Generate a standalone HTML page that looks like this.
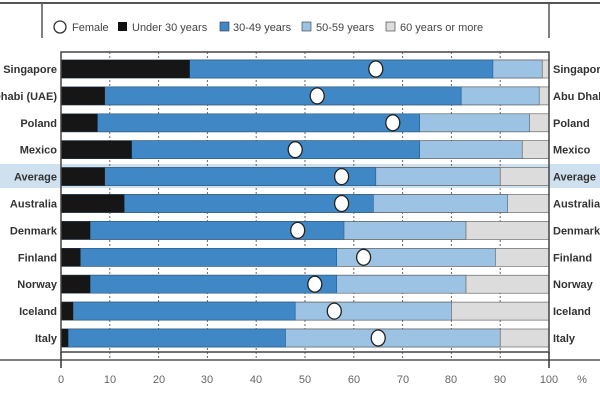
<!DOCTYPE html>
<html><head><style>body{margin:0;background:#fff}svg{display:block}text{font-family:"Liberation Sans",sans-serif}</style></head><body>
<svg width="600" height="400" viewBox="0 0 600 400" xmlns="http://www.w3.org/2000/svg">
<rect width="600" height="400" fill="#fff"/>
<line x1="0" y1="3" x2="600" y2="3" stroke="#555" stroke-width="2"/>
<line x1="42" y1="3" x2="42" y2="38" stroke="#555" stroke-width="1.5"/>
<line x1="549" y1="3" x2="549" y2="38" stroke="#555" stroke-width="1.5"/>
<g font-size="11" fill="#444">
<circle cx="60" cy="27" r="6" fill="#fff" stroke="#333" stroke-width="1.3"/><text x="72" y="31">Female</text>
<rect x="118" y="22" width="9" height="9" fill="#111"/><text x="132" y="31">Under 30 years</text>
<rect x="220" y="22" width="9" height="9" fill="#3f88c5" stroke="#333" stroke-width=".6"/><text x="233" y="31">30-49 years</text>
<rect x="302" y="22" width="9" height="9" fill="#9cc3e4" stroke="#333" stroke-width=".6"/><text x="316" y="31">50-59 years</text>
<rect x="386" y="22" width="9" height="9" fill="#ddd" stroke="#333" stroke-width=".6"/><text x="400" y="31">60 years or more</text>
</g>
<rect x="0" y="164" width="600" height="24" fill="#cfe0ef"/>
<g stroke="#666" stroke-dasharray="2,2" stroke-width="1">
<line x1="109.8" y1="52" x2="109.8" y2="360"/><line x1="158.6" y1="52" x2="158.6" y2="360"/><line x1="207.4" y1="52" x2="207.4" y2="360"/><line x1="256.2" y1="52" x2="256.2" y2="360"/><line x1="305" y1="52" x2="305" y2="360"/><line x1="353.8" y1="52" x2="353.8" y2="360"/><line x1="402.6" y1="52" x2="402.6" y2="360"/><line x1="451.4" y1="52" x2="451.4" y2="360"/><line x1="500.2" y1="52" x2="500.2" y2="360"/>
</g>
<g stroke="#555" stroke-width=".6">
<!-- grey full -->
<g fill="#dcdcdc">
<rect x="61" y="60" width="488" height="18"/><rect x="61" y="86.9" width="488" height="18"/><rect x="61" y="113.8" width="488" height="18"/><rect x="61" y="140.7" width="488" height="18"/><rect x="61" y="167.6" width="488" height="18"/><rect x="61" y="194.5" width="488" height="18"/><rect x="61" y="221.4" width="488" height="18"/><rect x="61" y="248.3" width="488" height="18"/><rect x="61" y="275.2" width="488" height="18"/><rect x="61" y="302.1" width="488" height="18"/><rect x="61" y="329" width="488" height="18"/>
</g>
<g fill="#9cc3e4">
<rect x="61" y="60" width="481.2" height="18"/><rect x="61" y="86.9" width="478.2" height="18"/><rect x="61" y="113.8" width="468.5" height="18"/><rect x="61" y="140.7" width="461.2" height="18"/><rect x="61" y="167.6" width="439.2" height="18"/><rect x="61" y="194.5" width="446.5" height="18"/><rect x="61" y="221.4" width="405" height="18"/><rect x="61" y="248.3" width="434.3" height="18"/><rect x="61" y="275.2" width="405" height="18"/><rect x="61" y="302.1" width="390.4" height="18"/><rect x="61" y="329" width="439.2" height="18"/>
</g>
<g fill="#3f88c5" stroke="#2a5a85">
<rect x="61" y="60" width="431.9" height="18"/><rect x="61" y="86.9" width="400.2" height="18"/><rect x="61" y="113.8" width="358.7" height="18"/><rect x="61" y="140.7" width="358.7" height="18"/><rect x="61" y="167.6" width="314.8" height="18"/><rect x="61" y="194.5" width="312.3" height="18"/><rect x="61" y="221.4" width="283" height="18"/><rect x="61" y="248.3" width="275.7" height="18"/><rect x="61" y="275.2" width="275.7" height="18"/><rect x="61" y="302.1" width="234.2" height="18"/><rect x="61" y="329" width="224.5" height="18"/>
</g>
<g fill="#161616" stroke="none">
<rect x="61" y="60" width="128.8" height="18"/><rect x="61" y="86.9" width="43.9" height="18"/><rect x="61" y="113.8" width="36.6" height="18"/><rect x="61" y="140.7" width="70.8" height="18"/><rect x="61" y="167.6" width="43.9" height="18"/><rect x="61" y="194.5" width="63.4" height="18"/><rect x="61" y="221.4" width="29.3" height="18"/><rect x="61" y="248.3" width="19.5" height="18"/><rect x="61" y="275.2" width="29.3" height="18"/><rect x="61" y="302.1" width="12.2" height="18"/><rect x="61" y="329" width="7.3" height="18"/>
</g>
</g>
<g fill="#fff" stroke="#222" stroke-width="1.3">
<ellipse cx="375.8" cy="69" rx="7" ry="8"/><ellipse cx="317.2" cy="95.9" rx="7" ry="8"/><ellipse cx="392.8" cy="122.8" rx="7" ry="8"/><ellipse cx="295.2" cy="149.7" rx="7" ry="8"/><ellipse cx="341.6" cy="176.6" rx="7" ry="8"/><ellipse cx="341.6" cy="203.5" rx="7" ry="8"/><ellipse cx="297.7" cy="230.4" rx="7" ry="8"/><ellipse cx="363.6" cy="257.3" rx="7" ry="8"/><ellipse cx="314.8" cy="284.2" rx="7" ry="8"/><ellipse cx="334.3" cy="311.1" rx="7" ry="8"/><ellipse cx="378.2" cy="338" rx="7" ry="8"/>
</g>
<rect x="61" y="52" width="488" height="300" fill="none" stroke="#444" stroke-width="1.5"/>
<g font-size="11" font-weight="bold" fill="#333" text-anchor="end">
<text x="57" y="73">Singapore</text><text x="57" y="99.9">Abu Dhabi (UAE)</text><text x="57" y="126.8">Poland</text><text x="57" y="153.7">Mexico</text><text x="57" y="180.6">Average</text><text x="57" y="207.5">Australia</text><text x="57" y="234.4">Denmark</text><text x="57" y="261.3">Finland</text><text x="57" y="288.2">Norway</text><text x="57" y="315.1">Iceland</text><text x="57" y="342">Italy</text>
</g>
<g font-size="11" font-weight="bold" fill="#333">
<text x="553" y="73">Singapore</text><text x="553" y="99.9">Abu Dhabi (UAE)</text><text x="553" y="126.8">Poland</text><text x="553" y="153.7">Mexico</text><text x="553" y="180.6">Average</text><text x="553" y="207.5">Australia</text><text x="553" y="234.4">Denmark</text><text x="553" y="261.3">Finland</text><text x="553" y="288.2">Norway</text><text x="553" y="315.1">Iceland</text><text x="553" y="342">Italy</text>
</g>
<line x1="0" y1="360" x2="600" y2="360" stroke="#555" stroke-width="1.5"/>
<line x1="61" y1="352" x2="61" y2="368" stroke="#333" stroke-width="1.5"/>
<line x1="549" y1="352" x2="549" y2="368" stroke="#333" stroke-width="1.5"/>
<g font-size="11" fill="#666" text-anchor="middle">
<text x="61" y="383">0</text><text x="110" y="383">10</text><text x="159" y="383">20</text><text x="207" y="383">30</text><text x="256" y="383">40</text><text x="305" y="383">50</text><text x="354" y="383">60</text><text x="403" y="383">70</text><text x="451" y="383">80</text><text x="500" y="383">90</text><text x="549" y="383">100</text><text x="582" y="383">%</text>
</g>
</svg>
</body></html>
